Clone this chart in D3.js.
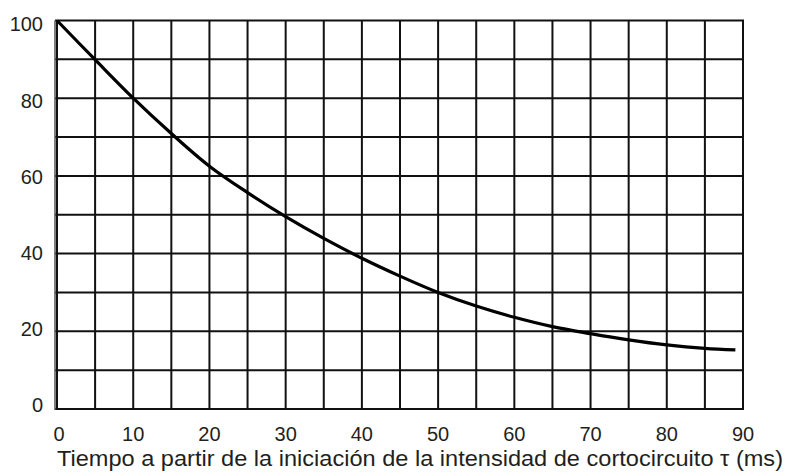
<!DOCTYPE html>
<html>
<head>
<meta charset="utf-8">
<script src="https://cdn.jsdelivr.net/npm/d3@7"></script>
<style>
  html, body { margin: 0; padding: 0; background: #fff; }
  svg { display: block; }
  text { font-family: Arial, "Liberation Sans", sans-serif; fill: #231f20; }
</style>
</head>
<body>
<svg id="chart" width="787" height="475"></svg>
<script>
// Data
const timeMs = [0, 5, 10, 15, 20, 25, 30, 35, 40, 45, 50, 55, 60, 65, 70, 75, 80, 85, 89];
const percent = [100, 89.9, 80.0, 70.9, 62.5, 55.7, 49.5, 43.9, 38.8, 34.2, 30.0, 26.5, 23.6, 21.2, 19.4, 17.8, 16.5, 15.6, 15.2];
const xTicks = [0, 10, 20, 30, 40, 50, 60, 70, 80, 90];
const yTicks = [0, 20, 40, 60, 80, 100];
const xGrid = d3.range(0, 91, 5);
const yGrid = d3.range(0, 101, 10);
const xTitle = "Tiempo a partir de la iniciación de la intensidad de cortocircuito τ (ms)";

const svg = d3.select("#chart");
const x = d3.scaleLinear().domain([0, 90]).range([57, 743]);
const y = d3.scaleLinear().domain([0, 100]).range([409, 20.5]);

// Grid
const g = svg.append("g");
g.selectAll("line.v").data(xGrid).join("line")
  .attr("x1", d => x(d)).attr("x2", d => x(d))
  .attr("y1", y(0)).attr("y2", y(100))
  .attr("stroke", "#111").attr("stroke-width", 2);
g.selectAll("line.h").data(yGrid).join("line")
  .attr("y1", d => y(d)).attr("y2", d => y(d))
  .attr("x1", x(0) - 2).attr("x2", x(90) + 1)
  .attr("stroke", "#111").attr("stroke-width", 2);

// Y axis line (slightly left of frame)
svg.append("line")
  .attr("x1", 55).attr("x2", 55)
  .attr("y1", y(100)).attr("y2", y(0) + 1)
  .attr("stroke", "#555").attr("stroke-width", 1.5);

// Y tick labels
svg.append("g").selectAll("text").data(yTicks).join("text")
  .attr("x", 43).attr("y", d => y(d) + 7.15 + (d - 50) * 0.075)
  .attr("text-anchor", "end")
  .attr("font-size", 20)
  .text(d => d);

// X tick labels
svg.append("g").selectAll("text").data(xTicks).join("text")
  .attr("x", d => x(d) + (d === 0 ? 2 : 0)).attr("y", 441)
  .attr("text-anchor", "middle")
  .attr("font-size", 20)
  .text(d => d);

// X title
svg.append("text")
  .attr("x", 420).attr("y", 466)
  .attr("text-anchor", "middle")
  .attr("font-size", 21.5)
  .attr("textLength", 726)
  .attr("lengthAdjust", "spacingAndGlyphs")
  .text(xTitle);

// Curve
const line = d3.line()
  .x((d, i) => x(timeMs[i]))
  .y(d => y(d))
  .curve(d3.curveCatmullRom.alpha(0.5));
svg.append("path")
  .datum(percent)
  .attr("d", line)
  .attr("fill", "none")
  .attr("stroke", "#000")
  .attr("stroke-width", 3.2)
  .attr("stroke-linecap", "butt");
</script>
</body>
</html>
